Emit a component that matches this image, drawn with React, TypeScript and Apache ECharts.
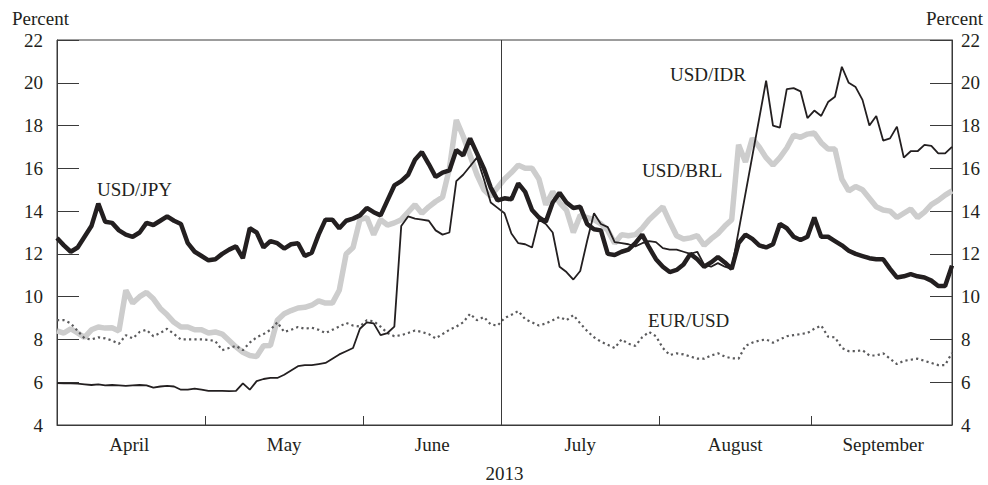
import React, { useEffect, useRef } from "react";
import * as echarts from "echarts";

const months = ["April", "May", "June", "July", "August", "September"];
const tradingDays = [22, 23, 20, 23, 22, 21];
const yearLabel = "2013";

const usdJpy = [
  12.74, 12.4, 12.1, 12.3, 12.8, 13.3, 14.35, 13.5, 13.45, 13.1,
  12.9, 12.8, 13.0, 13.45, 13.35, 13.55, 13.75, 13.55, 13.4, 12.5,
  12.1, 11.9, 11.7, 11.75, 12.0, 12.2, 12.35, 11.8, 13.2, 13.0,
  12.3, 12.6, 12.5, 12.25, 12.45, 12.5, 11.9, 12.05, 12.9, 13.6,
  13.6, 13.2, 13.55, 13.65, 13.8, 14.15, 13.95, 13.8, 14.5, 15.2,
  15.4, 15.7, 16.4, 16.76, 16.2, 15.6, 15.8, 15.9, 16.86, 16.6,
  17.4, 16.7, 16.0, 15.1, 14.5, 14.6, 14.55, 15.3, 14.9, 14.05,
  13.7, 13.5, 14.4, 14.85, 14.4, 14.15, 14.2, 13.4, 13.15, 13.1,
  12.0, 11.95, 12.1, 12.2, 12.5, 12.9, 12.3, 11.75, 11.4, 11.15,
  11.25, 11.5, 12.0, 11.75, 11.4, 11.6, 11.85, 11.6, 11.3, 12.5,
  12.9, 12.7, 12.4, 12.3, 12.45, 13.4, 13.2, 12.8, 12.65, 12.8,
  13.7, 12.8, 12.8, 12.6, 12.4, 12.15, 12.0, 11.9, 11.8, 11.75,
  11.75, 11.3, 10.9, 10.95, 11.05, 10.95, 10.9, 10.75, 10.5, 10.5,
  11.45,
];

const usdIdr = [
  5.96, 5.95, 5.95, 5.93, 5.9, 5.87, 5.9, 5.85, 5.87, 5.85,
  5.83, 5.85, 5.87, 5.85, 5.75, 5.8, 5.83, 5.8, 5.65, 5.65,
  5.7, 5.65, 5.6, 5.6, 5.6, 5.58, 5.6, 5.95, 5.65, 6.05,
  6.15, 6.2, 6.2, 6.35, 6.55, 6.75, 6.8, 6.8, 6.85, 6.9,
  7.1, 7.3, 7.45, 7.6, 8.5, 8.8, 8.75, 8.2, 8.3, 8.6,
  13.3, 13.75, 13.65, 13.6, 13.55, 13.1, 12.9, 13.0, 15.4, 15.7,
  16.1, 16.5, 15.5, 14.4, 14.15, 13.9, 12.95, 12.5, 12.45, 12.3,
  13.6, 13.4, 13.0, 11.4, 11.15, 10.8, 11.2, 12.6, 13.9, 13.4,
  13.25, 12.55, 12.5, 12.45, 12.35, 12.5, 12.6, 12.55, 12.27, 12.2,
  12.2, 12.1, 12.0, 12.1, 11.5, 11.4, 11.57, 11.4, 11.3, null,
  null, null, null, 20.1, 18.0, 17.9, 19.7, 19.75, 19.6, 18.35,
  18.7, 18.45, 19.1, 19.35, 20.75, 20.0, 19.8, 19.2, 18.0, 18.45,
  17.3, 17.4, 17.95, 16.5, 16.8, 16.8, 17.1, 17.05, 16.7, 16.7,
  17.0,
];

const usdBrl = [
  8.4, 8.3, 8.5, 8.3, 8.1, 8.45, 8.58, 8.53, 8.55, 8.4,
  10.3, 9.7, 10.0, 10.2, 9.9, 9.45, 9.15, 8.8, 8.58, 8.58,
  8.45, 8.45, 8.3, 8.35, 8.25, 7.95, 7.65, 7.4, 7.25, 7.2,
  7.7, 7.72, 8.9, 9.2, 9.35, 9.47, 9.5, 9.6, 9.8, 9.7,
  9.7, 10.3, 12.0, 12.3, 13.6, 13.7, 12.9, 13.6, 13.35, 13.45,
  13.6, 13.95, 14.3, 13.9, 14.2, 14.45, 14.65, 16.0, 18.26, 17.5,
  16.6, 15.7, 15.0, 14.7, 15.1, 15.5, 15.8, 16.15, 16.0, 16.0,
  15.5, 14.3, 14.9, 14.4, 14.05, 13.0, 13.8, 13.7, 13.6, 13.4,
  13.1, 12.5, 12.9, 12.85, 12.9, 13.2, 13.6, 13.9, 14.2, 13.5,
  12.85, 12.7, 12.75, 12.85, 12.4, 12.7, 12.95, 13.3, 13.6, 17.1,
  16.3, 17.4, 17.0, 16.5, 16.15, 16.5, 16.95, 17.55, 17.45, 17.6,
  17.65, 17.2, 16.9, 16.9, 15.5, 14.95, 15.15, 15.0, 14.6, 14.2,
  14.05, 14.0, 13.7, 13.9, 14.1, 13.7, 13.95, 14.3, 14.5, 14.75,
  14.95,
];

const eurUsd = [
  8.9, 8.9, 8.75, 8.4, 8.05, 8.0, 8.1, 8.05, 7.95, 7.8,
  8.2, 8.05, 8.35, 8.45, 8.15, 8.3, 8.5, 8.25, 8.0, 8.0,
  8.0, 8.0, 7.98, 7.92, 7.5, 7.6, 7.7, 7.5, 7.85, 8.1,
  8.25, 8.45, 8.8, 8.35, 8.45, 8.58, 8.5, 8.55, 8.45, 8.3,
  8.45, 8.6, 8.77, 8.65, 8.6, 8.9, 8.85, 8.6, 8.3, 8.15,
  8.2, 8.3, 8.42, 8.35, 8.25, 8.05, 8.25, 8.45, 8.6, 8.8,
  9.2, 8.9, 9.05, 8.7, 8.65, 9.0, 9.15, 9.33, 8.95, 8.8,
  8.65, 8.75, 8.9, 9.05, 8.9, 9.14, 8.75, 8.4, 8.1, 7.9,
  7.75, 7.6, 8.0, 7.8, 7.7, 8.1, 8.35, 8.15, 7.6, 7.27,
  7.35, 7.3, 7.2, 7.1, 7.1, 7.25, 7.35, 7.2, 7.12, 7.1,
  7.7, 7.85, 7.95, 8.0, 7.85, 8.0, 8.15, 8.2, 8.25, 8.3,
  8.5, 8.65, 8.13, 8.1, 7.6, 7.45, 7.45, 7.5, 7.25, 7.25,
  7.35, 7.1, 6.85, 7.0, 7.05, 7.1, 7.0, 6.9, 6.8, 6.8,
  7.37,
];

const seriesNames = ["USD/BRL", "EUR/USD", "USD/IDR", "USD/JPY"];

const FONT = '"Liberation Serif", "DejaVu Serif", serif';
const INK = "#231f20";
const AXIS = "#3a3a3a";

export default function App() {
  const ref = useRef<HTMLDivElement>(null);

  useEffect(() => {
    if (!ref.current) return;
    const chart = echarts.init(ref.current, null, { renderer: "svg" });

    const starts: number[] = [];
    let acc = 0;
    for (const d of tradingDays) {
      starts.push(acc);
      acc += d;
    }
    const n = acc;
    const boundaries = starts.slice(1).map((s) => s - 0.5);
    const centers = starts.map((s, k) => s + tradingDays[k] / 2 - 0.5);
    const pairs = (arr: (number | null)[]) => arr.map((v, i) => [i, v]);

    const monthFor = (v: number) => {
      let best = 0;
      let bd = Infinity;
      centers.forEach((c, k) => {
        const d = Math.abs(c - v);
        if (d < bd) {
          bd = d;
          best = k;
        }
      });
      return months[best];
    };

    const yAxisBase = {
      type: "value",
      min: 4,
      max: 22,
      interval: 2,
      splitLine: { show: false },
      axisLine: { show: true, lineStyle: { color: AXIS, width: 1 } },
      axisTick: { show: true, inside: true, length: 22, lineStyle: { color: AXIS, width: 1 } },
    };

    const textStyle = { fill: INK, fontSize: 19, fontFamily: FONT };

    chart.setOption({
      animation: false,
      backgroundColor: "#ffffff",
      grid: {
        left: 57,
        right: 36,
        top: 40,
        bottom: 60,
        show: true,
        borderColor: AXIS,
        borderWidth: 1,
        backgroundColor: "transparent",
        containLabel: false,
        outerBoundsMode: "none",
      },
      xAxis: {
        type: "value",
        min: 0,
        max: n - 1,
        name: yearLabel,
        nameLocation: "middle",
        nameGap: 39,
        nameTextStyle: { color: INK, fontSize: 19, lineHeight: 19, fontFamily: FONT },
        splitLine: { show: false },
        axisLine: { show: true, lineStyle: { color: AXIS, width: 1 } },
        axisTick: {
          show: true,
          inside: true,
          length: 9,
          customValues: boundaries,
          lineStyle: { color: AXIS, width: 1 },
        },
        axisLabel: {
          show: true,
          customValues: centers,
          formatter: (v: number) => monthFor(v),
          margin: 10,
          color: INK,
          fontSize: 19,
          fontFamily: FONT,
        },
      },
      yAxis: [
        {
          ...yAxisBase,
          position: "left",
          axisLabel: { margin: 14, color: INK, fontSize: 19, fontFamily: FONT },
        },
        {
          ...yAxisBase,
          position: "right",
          axisLabel: { margin: 9, color: INK, fontSize: 19, fontFamily: FONT },
        },
      ],
      series: [
        {
          name: seriesNames[0],
          type: "line",
          data: pairs(usdBrl),
          showSymbol: false,
          lineStyle: { color: "#cdcdcd", width: 5.5 },
          z: 2,
          markLine: {
            silent: true,
            symbol: "none",
            label: { show: false },
            lineStyle: { color: AXIS, width: 1, type: "solid" },
            data: [{ xAxis: boundaries[2] }],
          },
        },
        {
          name: seriesNames[1],
          type: "line",
          data: pairs(eurUsd),
          showSymbol: false,
          lineStyle: { color: "#5a5a5c", width: 2.2, type: [2.2, 3.2] },
          z: 3,
        },
        {
          name: seriesNames[2],
          type: "line",
          data: pairs(usdIdr),
          connectNulls: true,
          showSymbol: false,
          lineStyle: { color: INK, width: 1.8 },
          z: 4,
        },
        {
          name: seriesNames[3],
          type: "line",
          data: pairs(usdJpy),
          showSymbol: false,
          lineStyle: { color: INK, width: 4.5 },
          z: 5,
        },
      ],
      graphic: [
        { type: "text", x: 12, y: 18, style: { ...textStyle, text: "Percent", verticalAlign: "middle" } },
        { type: "text", x: 926, y: 18, style: { ...textStyle, text: "Percent", verticalAlign: "middle" } },
        { type: "text", x: 97, y: 189, style: { ...textStyle, text: seriesNames[3], verticalAlign: "middle" } },
        { type: "text", x: 670, y: 74, style: { ...textStyle, text: seriesNames[2], verticalAlign: "middle" } },
        { type: "text", x: 642, y: 170, style: { ...textStyle, text: seriesNames[0], verticalAlign: "middle" } },
        { type: "text", x: 648, y: 320, style: { ...textStyle, text: seriesNames[1], verticalAlign: "middle" } },
      ],
    });

    return () => chart.dispose();
  }, []);

  return (
    <div
      ref={ref}
      style={{ position: "absolute", left: 0, top: 0, width: 988, height: 485 }}
    />
  );
}
